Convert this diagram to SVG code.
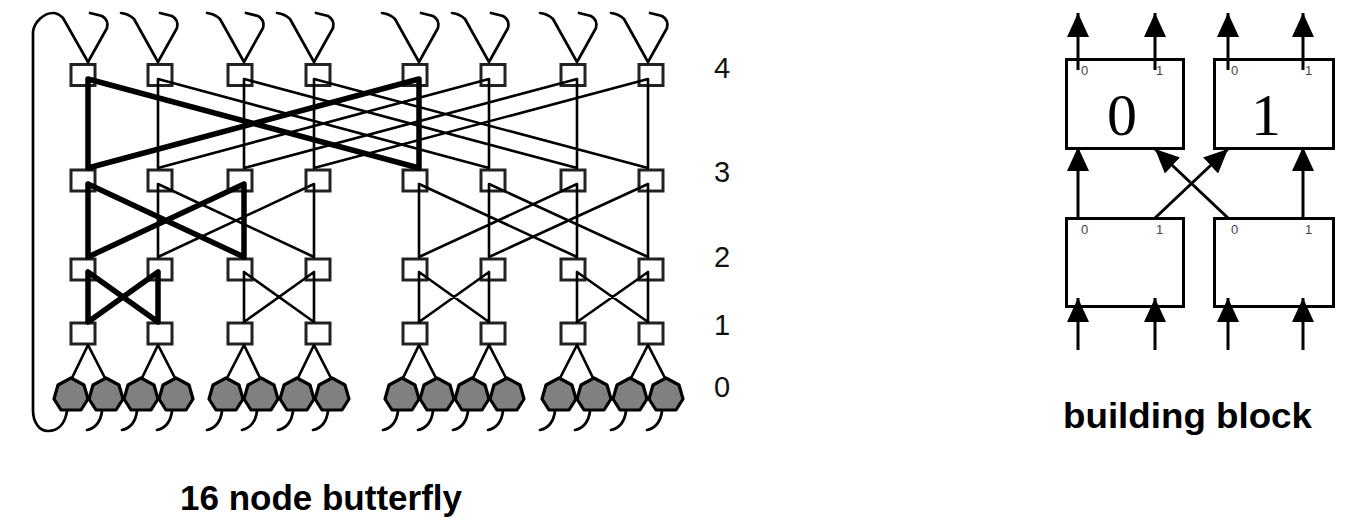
<svg xmlns="http://www.w3.org/2000/svg" width="1352" height="520" viewBox="0 0 1352 520">
<style>
.sw{fill:#fff;stroke:#222;stroke-width:3}
.pr{fill:#808080;stroke:#000;stroke-width:3.2;stroke-linejoin:round}
.c{stroke:#000;stroke-width:2.6;fill:none;stroke-linecap:round}
.k{stroke:#000;stroke-width:5.5;fill:none;stroke-linecap:round}
.w{stroke:#000;stroke-width:2.7;fill:none;stroke-linejoin:round;stroke-linecap:round}
.lbl{font-family:"Liberation Sans",Arial,sans-serif;font-size:29px;fill:#111}
.title{font-family:"Liberation Sans",Arial,sans-serif;font-weight:bold;font-size:35px;fill:#000}
.bb{fill:#fff;stroke:#000;stroke-width:3}
.a{stroke:#000;stroke-width:3;fill:none;marker-end:url(#ah)}
.big{font-family:"Liberation Serif","Times New Roman",serif;font-size:60px;fill:#000;text-anchor:middle}
.port{font-family:"Liberation Sans",Arial,sans-serif;font-size:13px;fill:#444}
</style>
<defs>
<polygon id="proc" points="0,-17 13,-10 17,4 10,15 -10,15 -17,4 -13,-10"/>
<marker id="ah" viewBox="0 0 24 22" refX="24" refY="11" markerWidth="24" markerHeight="22" markerUnits="userSpaceOnUse" orient="auto"><path d="M0,0 L24,11 L0,22 z" fill="#000"/></marker>
</defs>

<g id="switches">
<g id="sw4-0"><rect class="sw" x="71" y="64.5" width="24" height="21"/></g>
<g id="sw4-1"><rect class="sw" x="148" y="64.5" width="24" height="21"/></g>
<g id="sw4-2"><rect class="sw" x="228" y="64.5" width="24" height="21"/></g>
<g id="sw4-3"><rect class="sw" x="306" y="64.5" width="24" height="21"/></g>
<g id="sw4-4"><rect class="sw" x="403" y="64.5" width="24" height="21"/></g>
<g id="sw4-5"><rect class="sw" x="481" y="64.5" width="24" height="21"/></g>
<g id="sw4-6"><rect class="sw" x="561" y="64.5" width="24" height="21"/></g>
<g id="sw4-7"><rect class="sw" x="639" y="64.5" width="24" height="21"/></g>

<g id="sw3-0"><rect class="sw" x="71" y="170" width="24" height="21"/></g>
<g id="sw3-1"><rect class="sw" x="148" y="170" width="24" height="21"/></g>
<g id="sw3-2"><rect class="sw" x="228" y="170" width="24" height="21"/></g>
<g id="sw3-3"><rect class="sw" x="306" y="170" width="24" height="21"/></g>
<g id="sw3-4"><rect class="sw" x="403" y="170" width="24" height="21"/></g>
<g id="sw3-5"><rect class="sw" x="481" y="170" width="24" height="21"/></g>
<g id="sw3-6"><rect class="sw" x="561" y="170" width="24" height="21"/></g>
<g id="sw3-7"><rect class="sw" x="639" y="170" width="24" height="21"/></g>

<g id="sw2-0"><rect class="sw" x="71" y="259" width="24" height="21"/></g>
<g id="sw2-1"><rect class="sw" x="148" y="259" width="24" height="21"/></g>
<g id="sw2-2"><rect class="sw" x="228" y="259" width="24" height="21"/></g>
<g id="sw2-3"><rect class="sw" x="306" y="259" width="24" height="21"/></g>
<g id="sw2-4"><rect class="sw" x="403" y="259" width="24" height="21"/></g>
<g id="sw2-5"><rect class="sw" x="481" y="259" width="24" height="21"/></g>
<g id="sw2-6"><rect class="sw" x="561" y="259" width="24" height="21"/></g>
<g id="sw2-7"><rect class="sw" x="639" y="259" width="24" height="21"/></g>

<g id="sw1-0"><rect class="sw" x="71" y="323" width="24" height="21"/></g>
<g id="sw1-1"><rect class="sw" x="148" y="323" width="24" height="21"/></g>
<g id="sw1-2"><rect class="sw" x="228" y="323" width="24" height="21"/></g>
<g id="sw1-3"><rect class="sw" x="306" y="323" width="24" height="21"/></g>
<g id="sw1-4"><rect class="sw" x="403" y="323" width="24" height="21"/></g>
<g id="sw1-5"><rect class="sw" x="481" y="323" width="24" height="21"/></g>
<g id="sw1-6"><rect class="sw" x="561" y="323" width="24" height="21"/></g>
<g id="sw1-7"><rect class="sw" x="639" y="323" width="24" height="21"/></g>
</g>

<g id="connectors">
<path class="w" d="M67,411 C65,424 58,431 48,431 C39,431 33,422 33,410 L33,32 C34,22 44,13 53,13 C57,13 60,15 63,18 L88,62"/>
<path class="w" d="M88,62 L107,28 Q109,20 102,16 L90,13"/>
<path class="w" d="M121,13 Q129,14 134,19 L158,62 L177,28 Q179,20 172,16 L160,13"/>
<path class="w" d="M207,13 Q215,14 220,19 L244,62 L263,28 Q265,20 258,16 L246,13"/>
<path class="w" d="M277,13 Q285,14 290,19 L314,62 L333,28 Q335,20 328,16 L316,13"/>
<path class="w" d="M382,13 Q390,14 395,19 L419,62 L438,28 Q440,20 433,16 L421,13"/>
<path class="w" d="M452,13 Q460,14 465,19 L489,62 L508,28 Q510,20 503,16 L491,13"/>
<path class="w" d="M540,13 Q548,14 553,19 L577,62 L596,28 Q598,20 591,16 L579,13"/>
<path class="w" d="M611,13 Q619,14 624,19 L648,62 L667,28 Q669,20 662,16 L650,13"/>

<path class="c" d="M158,79 V168 M244,79 V168 M314,79 V168 M489,79 V168 M577,79 V168 M648,79 V168
M158,79 L489,168 M489,79 L158,168 M244,79 L577,168 M577,79 L244,168 M314,79 L648,168 M648,79 L314,168"/>
<path class="k" d="M88,79 V168 M419,79 V168 M88,79 L419,168 M419,79 L88,168"/>

<path class="c" d="M158,184 V257 M314,184 V257 M419,184 V257 M489,184 V257 M577,184 V257 M648,184 V257
M158,184 L314,257 M314,184 L158,257 M419,184 L577,257 M577,184 L419,257 M489,184 L648,257 M648,184 L489,257"/>
<path class="k" d="M88,184 V257 M244,184 V257 M88,184 L244,257 M244,184 L88,257"/>

<path class="c" d="M244,272 V322 M314,272 V322 M419,272 V322 M489,272 V322 M577,272 V322 M648,272 V322
M244,272 L314,322 M314,272 L244,322 M419,272 L489,322 M489,272 L419,322 M577,272 L648,322 M648,272 L577,322"/>
<path class="k" d="M88,272 V322 M158,272 V322 M88,272 L158,322 M158,272 L88,322"/>

<path class="w" d="M71,380 L88,345 L106,380 M141,380 L158,345 L176,380 M226,380 L244,345 L261,380 M297,380 L314,345 L332,380
M402,380 L419,345 L437,380 M472,380 L489,345 L507,380 M559,380 L577,345 L594,380 M630,380 L648,345 L666,380"/>

<path class="w" d="M102,411 Q100,427 87,430 M137,411 Q135,427 122,430 M172,411 Q170,427 157,430
M222,411 Q220,427 207,430 M257,411 Q255,427 242,430 M293,411 Q291,427 278,430 M328,411 Q326,427 313,430
M398,411 Q396,427 383,430 M433,411 Q431,427 418,430 M468,411 Q466,427 453,430 M503,411 Q501,427 488,430
M555,411 Q553,427 540,430 M590,411 Q588,427 575,430 M626,411 Q624,427 611,430 M662,411 Q660,427 647,430"/>
</g>

<g id="processors">
<g id="p0"><use href="#proc" class="pr" x="71" y="395"/></g>
<g id="p1"><use href="#proc" class="pr" x="106" y="395"/></g>
<g id="p2"><use href="#proc" class="pr" x="141" y="395"/></g>
<g id="p3"><use href="#proc" class="pr" x="176" y="395"/></g>
<g id="p4"><use href="#proc" class="pr" x="226" y="395"/></g>
<g id="p5"><use href="#proc" class="pr" x="261" y="395"/></g>
<g id="p6"><use href="#proc" class="pr" x="297" y="395"/></g>
<g id="p7"><use href="#proc" class="pr" x="332" y="395"/></g>
<g id="p8"><use href="#proc" class="pr" x="402" y="395"/></g>
<g id="p9"><use href="#proc" class="pr" x="437" y="395"/></g>
<g id="p10"><use href="#proc" class="pr" x="472" y="395"/></g>
<g id="p11"><use href="#proc" class="pr" x="507" y="395"/></g>
<g id="p12"><use href="#proc" class="pr" x="559" y="395"/></g>
<g id="p13"><use href="#proc" class="pr" x="594" y="395"/></g>
<g id="p14"><use href="#proc" class="pr" x="630" y="395"/></g>
<g id="p15"><use href="#proc" class="pr" x="666" y="395"/></g>
</g>

<g id="stage-labels">
<text class="lbl" x="714" y="78">4</text>
<text class="lbl" x="714" y="182">3</text>
<text class="lbl" x="714" y="267">2</text>
<text class="lbl" x="714" y="335">1</text>
<text class="lbl" x="714" y="397">0</text>
</g>
<text id="title-butterfly" class="title" x="180" y="510">16 node butterfly</text>

<g id="bb-top0"><rect class="bb" x="1066.5" y="59.5" width="117" height="89"/><text class="big" x="1122" y="135">0</text><text class="port" x="1081" y="75">0</text><text class="port" x="1156" y="75">1</text></g>
<g id="bb-top1"><rect class="bb" x="1214.5" y="59.5" width="119" height="89"/><text class="big" x="1266" y="135">1</text><text class="port" x="1231" y="75">0</text><text class="port" x="1305" y="75">1</text></g>
<g id="bb-bot0"><rect class="bb" x="1066.5" y="218.5" width="117" height="88"/><text class="port" x="1081" y="234">0</text><text class="port" x="1156" y="234">1</text></g>
<g id="bb-bot1"><rect class="bb" x="1214.5" y="218.5" width="119" height="88"/><text class="port" x="1231" y="234">0</text><text class="port" x="1305" y="234">1</text></g>
<g id="bb-connectors">
<path class="a" d="M1078,70 L1078,13"/>
<path class="a" d="M1155,70 L1155,13"/>
<path class="a" d="M1228,70 L1228,13"/>
<path class="a" d="M1303,70 L1303,13"/>
<path class="a" d="M1078,218 L1078,147"/>
<path class="a" d="M1303,218 L1303,147"/>
<path class="a" d="M1155,218 L1228,149"/>
<path class="a" d="M1228,218 L1155,149"/>
<path class="a" d="M1078,350 L1078,298"/>
<path class="a" d="M1155,350 L1155,298"/>
<path class="a" d="M1228,350 L1228,298"/>
<path class="a" d="M1303,350 L1303,298"/>
</g>
<text id="title-block" class="title" x="1063" y="428" textLength="249" lengthAdjust="spacingAndGlyphs">building block</text>
</svg>
